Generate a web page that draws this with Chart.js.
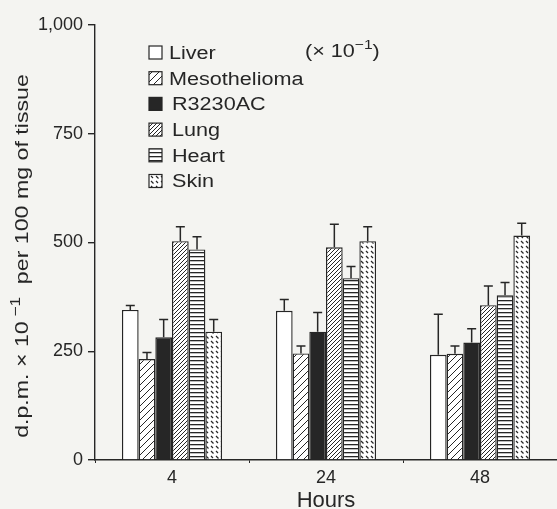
<!DOCTYPE html>
<html>
<head>
<meta charset="utf-8">
<script src="https://cdn.jsdelivr.net/npm/chart.js@4.4.1/dist/chart.umd.min.js"></script>
<style>
  html, body { margin: 0; padding: 0; background: #f4f4f1; }
  #wrap { width: 557px; height: 509px; }
</style>
</head>
<body>
<div id="wrap"><canvas id="chart"></canvas></div>
<script>
// categories (hours after injection)
const hours = ['4', '24', '48']
const tissues = ['Liver', 'Mesothelioma', 'R3230AC', 'Lung', 'Heart', 'Skin']

// mean values (d.p.m. x 10^-1 per 100 mg of tissue), liver is x 10^-1
const liver = [345, 343, 242]
const meso = [232, 245, 244]
const r3230 = [282, 295, 270]
const lung = [503, 489, 356]
const heart = [484, 418, 379]
const skin = [295, 503, 516]

// error bar sizes (upper only)
const liverErr = [10, 26, 93]
const mesoErr = [15, 17, 18]
const r3230Err = [41, 44, 32]
const lungErr = [33, 53, 44]
const heartErr = [29, 27, 29]
const skinErr = [28, 33, 28]

const yTicks = [0, 250, 500, 750, 1000]

const ink = '#262626'
const paper = '#f4f4f1'
const fam = '"Liberation Sans", Arial, sans-serif'

// small helper to build canvas fill patterns
function makePattern(size, draw) {
    const c = document.createElement('canvas')
    c.width = size
    c.height = size
    const g = c.getContext('2d')
    g.fillStyle = '#ffffff'
    g.fillRect(0, 0, size, size)
    g.strokeStyle = ink
    g.fillStyle = ink
    draw(g, size)
    return document.getElementById('chart').getContext('2d').createPattern(c, 'repeat')
}

function diagonal(g, s, w) {
    g.lineWidth = w
    g.beginPath()
    g.moveTo(0, s); g.lineTo(s, 0)
    g.moveTo(-1, 1); g.lineTo(1, -1)
    g.moveTo(s - 1, s + 1); g.lineTo(s + 1, s - 1)
    g.stroke()
}

const patMeso = makePattern(7, (g, s) => diagonal(g, s, 1))
const patLung = makePattern(4, (g, s) => diagonal(g, s, 1))
const patHeart = makePattern(4, (g, s) => {
    g.fillRect(0, 0, s, 1.3)
})
const patSkin = makePattern(10, (g, s) => {
    g.lineWidth = 1.2
    g.beginPath()
    g.moveTo(1, 1); g.lineTo(3.5, 3.5)
    g.moveTo(6, 6); g.lineTo(8.5, 8.5)
    g.moveTo(6, 1); g.lineTo(8, 3)
    g.moveTo(1, 6); g.lineTo(3, 8)
    g.stroke()
})

const fills = ['#ffffff', patMeso, ink, patLung, patHeart, patSkin]
const values = [liver, meso, r3230, lung, heart, skin]
const errors = [liverErr, mesoErr, r3230Err, lungErr, heartErr, skinErr]

// text in the scan is a wide Helvetica, so stretch it a little
function wideText(ctx, parts, x, y, sx, align) {
    // parts: [text, size, raise]
    let total = 0
    parts.forEach(p => {
        ctx.font = p[1] + 'px ' + fam
        total += ctx.measureText(p[0]).width
    })
    ctx.save()
    ctx.translate(x, y)
    ctx.scale(sx, 1)
    let cx = align === 'center' ? -total / 2 : 0
    parts.forEach(p => {
        ctx.font = p[1] + 'px ' + fam
        ctx.fillText(p[0], cx, -(p[2] || 0))
        cx += ctx.measureText(p[0]).width
    })
    ctx.restore()
}

// paint paper colour behind everything
const paperPlugin = {
    id: 'paper',
    beforeDraw(chart) {
        const ctx = chart.ctx
        ctx.save()
        ctx.fillStyle = paper
        ctx.fillRect(0, 0, chart.width, chart.height)
        ctx.restore()
    }
}

// upper error bars with a cap
const errorBars = {
    id: 'errorBars',
    afterDatasetsDraw(chart) {
        const ctx = chart.ctx
        const y = chart.scales.y
        ctx.save()
        ctx.strokeStyle = ink
        ctx.lineWidth = 1.5
        chart.data.datasets.forEach((ds, i) => {
            const meta = chart.getDatasetMeta(i)
            meta.data.forEach((bar, j) => {
                const top = y.getPixelForValue(ds.data[j] + errors[i][j])
                ctx.beginPath()
                ctx.moveTo(bar.x, bar.y)
                ctx.lineTo(bar.x, top)
                ctx.moveTo(bar.x - 4.5, top)
                ctx.lineTo(bar.x + 4.5, top)
                ctx.stroke()
            })
        })
        ctx.restore()
    }
}

// legend inside the plot and the rotated y title
const boxLegend = {
    id: 'boxLegend',
    afterDraw(chart) {
        const ctx = chart.ctx
        ctx.save()
        ctx.textBaseline = 'middle'
        chart.data.datasets.forEach((ds, i) => {
            const cy = 53 + i * 25.7
            ctx.fillStyle = ds.backgroundColor
            ctx.fillRect(149, cy - 7, 13, 13)
            ctx.strokeStyle = ink
            ctx.lineWidth = 1.2
            ctx.strokeRect(149, cy - 7, 13, 13)
            ctx.fillStyle = ink
            wideText(ctx, [[ds.label, 18]], i >= 2 ? 172 : 169, cy + 1, 1.2)
        })
        wideText(ctx, [['(\u00d7 10', 18], ['\u2212', 13, 7], ['1', 13, 7], [')', 18]], 305, 52, 1.2)

        // y axis title
        ctx.save()
        ctx.translate(23, 256)
        ctx.rotate(-Math.PI / 2)
        wideText(ctx, [['d.p.m. \u00d7 10', 19], [' \u2212', 14, 7], ['1', 14, 7], ['  per 100 mg of tissue', 19]], 0, 0, 1.22, 'center')
        ctx.restore()
        ctx.restore()
    }
}

const chart = new Chart(document.getElementById('chart'), {
    type: 'bar',
    data: {
        labels: hours,
        datasets: tissues.map((t, i) => ({
            label: t,
            data: values[i],
            backgroundColor: fills[i],
            borderColor: ink,
            borderWidth: 1.4,
            borderSkipped: 'bottom',
            categoryPercentage: 0.65,
            barPercentage: 1.0
        }))
    },
    options: {
        responsive: true,
        maintainAspectRatio: false,
        animation: false,
        devicePixelRatio: 1,
        layout: { padding: { top: 25, right: 0, left: 8, bottom: 0 } },
        plugins: {
            legend: { display: false },
            tooltip: { enabled: false }
        },
        scales: {
            x: {
                offset: true,
                grid: { offset: true, drawOnChartArea: false, drawTicks: true, tickLength: 3, color: ink },
                border: { color: ink, width: 1.4 },
                ticks: { color: ink, font: { size: 18, family: fam }, padding: 4 },
                title: { display: true, text: 'Hours', color: ink, font: { size: 22, family: fam }, padding: { top: 0, bottom: -5 } },
                afterFit(s) { s.height = 49 }
            },
            y: {
                min: 0,
                max: 1000,
                afterBuildTicks(s) { s.ticks = yTicks.map(v => ({ value: v })) },
                grid: { drawOnChartArea: false, drawTicks: true, tickLength: 7, color: ink, lineWidth: 1.4 },
                border: { color: ink, width: 1.4 },
                ticks: { color: ink, font: { size: 18, family: fam }, padding: 5 },
                afterFit(s) { s.width = 87 }
            }
        }
    },
    plugins: [paperPlugin, errorBars, boxLegend]
})
</script>
</body>
</html>
